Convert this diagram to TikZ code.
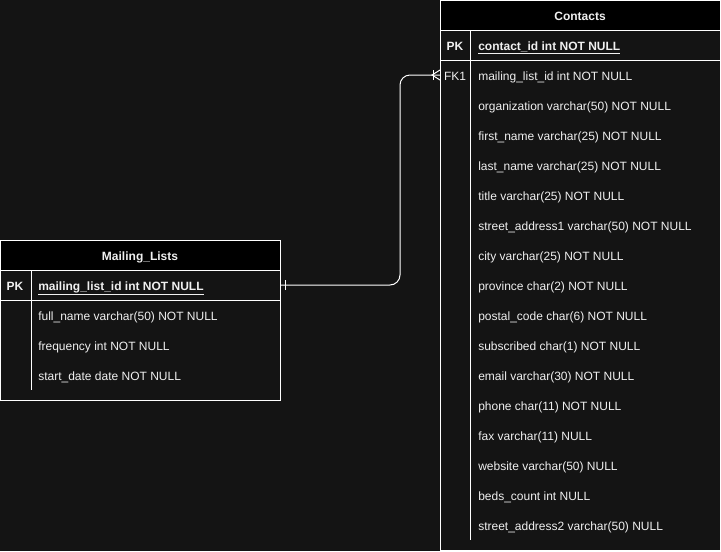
\documentclass[tikz,border=0pt]{standalone}
\usepackage{fontspec}
\setmainfont{Liberation Sans}
\usetikzlibrary{positioning}
\definecolor{canvas}{HTML}{141414}
\definecolor{ink}{HTML}{F0F0F0}
\newcommand{\tablewidth}{210pt}
\newcommand{\rowheight}{22.5pt}
\newcommand{\erfont}{\fontsize{9}{11}\selectfont}
\tikzstyle{header} = [% name bar on top of a table
  rectangle,
  minimum width=\tablewidth,
  minimum height=\rowheight,
  inner sep=0pt,
  outer sep=0pt,
  text centered,
  text height=8pt,
  text depth=0pt,
  draw=white,
  fill=black,
  text=ink,
  font=\erfont\bfseries
]
\tikzstyle{tablebody} = [% frame holding the columns of a table
  rectangle,
  minimum width=\tablewidth,
  inner sep=0pt,
  outer sep=0pt,
  draw=white,
  fill=canvas
]
\tikzstyle{keylabel} = [% PK / FK marker
  text=ink,
  inner sep=0pt,
  text height=8pt,
  text depth=0pt,
  font=\erfont
]
\tikzstyle{field} = [% one column of a table
  anchor=west,
  text=ink,
  inner sep=0pt,
  text height=8pt,
  text depth=0pt,
  font=\erfont
]
\tikzstyle{tableline} = [% lines inside a table
  draw=white,
  line width=0.75pt
]
\tikzstyle{relation} = [% relationship line
  draw=white,
  line width=0.75pt
]
\begin{document}
\begin{tikzpicture}[x=0.75pt, y=-0.75pt]

\fill[canvas] (0,0) rectangle (721,551);
\useasboundingbox (0,0) rectangle (721,551);

%%% Mailing_Lists
\node[header] (MailingLists) at (140,255) {Mailing\_Lists};
\node[tablebody, minimum height=97.5pt] (MailingListsBody) [below=0pt of MailingLists] {};
\draw[tableline] ([yshift=-\rowheight]MailingListsBody.north west) -- ([yshift=-\rowheight]MailingListsBody.north east);
\draw[tableline] ([xshift=23.25pt]MailingListsBody.north west) -- ++(0,120);

\node[keylabel] (mlPK) at (15,285) {\bfseries PK};
\node[field] (mlKey) at (38,285) {\bfseries\underline{mailing\_list\_id int NOT NULL}};
\foreach \column [count=\i] in {full\_name varchar(50) NOT NULL, frequency int NOT NULL, start\_date date NOT NULL}
  \node[field] (mlColumn\i) at (38, 285+30*\i) {\column};


%%% Contacts
\node[header] (Contacts) at (580,15) {Contacts};
\node[tablebody, minimum height=390pt] (ContactsBody) [below=0pt of Contacts] {};
\draw[tableline] ([yshift=-\rowheight]ContactsBody.north west) -- ([yshift=-\rowheight]ContactsBody.north east);
\draw[tableline] ([xshift=22.5pt]ContactsBody.north west) -- ++(0,510);

\node[keylabel] (ctPK) at (455,45) {\bfseries PK};
\node[field] (ctKey) at (478,45) {\bfseries\underline{contact\_id int NOT NULL}};
\node[keylabel] (ctFK) at (455,75) {FK1};
\foreach \column [count=\i] in {mailing\_list\_id int NOT NULL, organization varchar(50) NOT NULL, first\_name varchar(25) NOT NULL, last\_name varchar(25) NOT NULL, title varchar(25) NOT NULL, street\_address1 varchar(50) NOT NULL, city varchar(25) NOT NULL, province char(2) NOT NULL, postal\_code char(6) NOT NULL, subscribed char(1) NOT NULL, email varchar(30) NOT NULL, phone char(11) NOT NULL, fax varchar(11) NULL, website varchar(50) NULL, beds\_count int NULL, street\_address2 varchar(50) NULL}
  \node[field] (ctColumn\i) at (478, 45+30*\i) {\column};


%%% Relationship
\coordinate (one) at (mlKey -| MailingListsBody.east);
\coordinate (many) at (ctColumn1 -| ContactsBody.west);
\coordinate (bend) at (400,0);
\draw[relation, rounded corners=7.5pt] (one) -- (one -| bend) -- (many -| bend) -- (many);
\draw[relation] (one) ++(5,-5) -- ++(0,10);
\draw[relation] (many) ++(-7,-5) -- ++(0,10);
\draw[relation] (many) ++(0,-5) -- ++(-8,5) -- ++(8,5);

\end{tikzpicture}
\end{document}
